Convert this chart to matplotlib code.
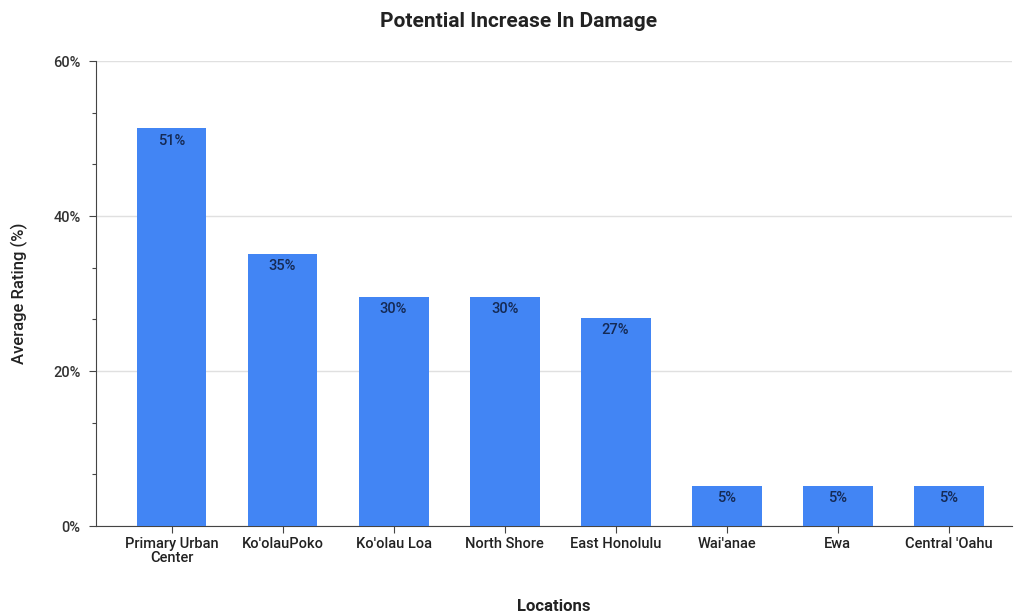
import matplotlib
matplotlib.use("Agg")
import matplotlib.pyplot as plt
from matplotlib.ticker import MultipleLocator, FuncFormatter

plt.rcParams['font.family'] = ['Roboto', 'DejaVu Sans']

categories = ["Primary Urban\nCenter", "Ko'olauPoko", "Ko'olau Loa", "North Shore",
              "East Honolulu", "Wai'anae", "Ewa", "Central 'Oahu"]
values = [51.3, 35.1, 29.6, 29.6, 26.9, 5.2, 5.2, 5.2]
labels = ["51%", "35%", "30%", "30%", "27%", "5%", "5%", "5%"]
yticks = [0, 20, 40, 60]

fig = plt.figure(figsize=(10.16, 6.15), dpi=100)
ax = fig.add_axes([0.0945, 0.1447, 0.9015, 0.7561])

x = list(range(len(categories)))
bars = ax.bar(x, values, width=0.63, color='#4285F4', zorder=3)
for b, lab in zip(bars, labels):
    ax.text(b.get_x() + b.get_width() / 2, b.get_height() - 0.7, lab,
            ha='center', va='top', fontsize=10.5, fontweight='medium', color='#152a55', zorder=4)

ax.set_xlim(-0.68, 7.57)
ax.set_ylim(0, 60)
ax.set_yticks(yticks)
ax.yaxis.set_minor_locator(MultipleLocator(20 / 3))
ax.yaxis.set_major_formatter(FuncFormatter(lambda v, p: f"{v:.0f}%"))
ax.set_xticks(x)
ax.set_xticklabels(categories, fontsize=10.5, fontweight='medium', color='#222222', linespacing=0.95)
ax.tick_params(axis='y', labelsize=10.5, colors='#444444', length=5, width=0.8, labelcolor='#333333', pad=6)
ax.tick_params(axis='y', which='minor', length=3, width=0.8, colors='#444444')
ax.tick_params(axis='x', length=5, width=0.8, colors='#444444', labelcolor='#222222', pad=3)
for t in ax.get_yticklabels():
    t.set_fontweight('medium')

ax.grid(axis='y', color='#e0e0e0', linewidth=1, zorder=0)
for s in ['top', 'right']:
    ax.spines[s].set_visible(False)
ax.spines['left'].set_color('#444444')
ax.spines['bottom'].set_color('#444444')
ax.spines['left'].set_linewidth(0.8)
ax.spines['bottom'].set_linewidth(0.8)

fig.text(0.51, 0.965, "Potential Increase In Damage", fontsize=15, fontweight='bold',
         color='#222222', ha='center', va='center')
ax.set_xlabel("Locations", fontsize=12, fontweight='bold', color='#222222', labelpad=25)
ax.set_ylabel("Average Rating (%)", fontsize=12, fontweight='medium', color='#222222', labelpad=18)

fig.savefig("out.png", dpi=100)
